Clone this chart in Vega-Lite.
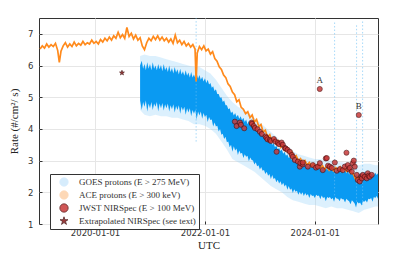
{
"$schema": "https://vega.github.io/schema/vega-lite/v6.json",
"width": 339, "height": 206,
"autosize": {"type": "none"},
"padding": {"left": 39, "top": 18, "right": 19, "bottom": 40},
"config": {
 "view": {"stroke": "#333", "strokeWidth": 1},
 "axis": {"grid": true, "gridColor": "#e6e6e6", "gridWidth": 1, "domain": false, "tickColor": "#333", "tickSize": -3, "labelOverlap": false, "labelFont": "DejaVu Sans", "labelFontSize": 8.5, "labelColor": "#333", "titleFont": "Liberation Serif", "titleFontSize": 11, "titleFontWeight": "normal", "titleColor": "#222"},
 "legend": {"orient": "none", "legendX": 11, "legendY": 156, "padding": 3, "strokeColor": "#333", "fillColor": "#fff", "cornerRadius": 0, "symbolOffset": 6, "labelOffset": 10, "labelFont": "Liberation Serif", "labelFontSize": 9, "labelColor": "#333", "rowPadding": 1, "symbolSize": 70, "symbolStrokeWidth": 0.8}
},
"datasets": {
 "goes_outer": [
  {"year":2020.82,"lo2":4.6,"hi2":6.3},{"year":2020.9,"lo2":4.45,"hi2":6.35},{"year":2021.0,"lo2":4.4,"hi2":6.3},{"year":2021.1,"lo2":4.45,"hi2":6.3},{"year":2021.2,"lo2":4.4,"hi2":6.25},{"year":2021.3,"lo2":4.4,"hi2":6.2},{"year":2021.4,"lo2":4.35,"hi2":6.15},{"year":2021.5,"lo2":4.35,"hi2":6.1},{"year":2021.6,"lo2":4.3,"hi2":6.05},{"year":2021.7,"lo2":4.25,"hi2":6.0},{"year":2021.8,"lo2":4.15,"hi2":5.95},{"year":2021.9,"lo2":4.15,"hi2":5.95},{"year":2022.0,"lo2":4.1,"hi2":5.85},{"year":2022.1,"lo2":4.0,"hi2":5.75},{"year":2022.2,"lo2":3.85,"hi2":5.55},{"year":2022.3,"lo2":3.6,"hi2":5.3},{"year":2022.4,"lo2":3.35,"hi2":5.05},{"year":2022.5,"lo2":3.05,"hi2":4.85},{"year":2022.6,"lo2":2.95,"hi2":4.7},{"year":2022.7,"lo2":2.85,"hi2":4.6},{"year":2022.8,"lo2":2.75,"hi2":4.5},{"year":2022.9,"lo2":2.65,"hi2":4.35},{"year":2023.0,"lo2":2.5,"hi2":4.2},{"year":2023.1,"lo2":2.35,"hi2":4.05},{"year":2023.2,"lo2":2.2,"hi2":3.9},{"year":2023.3,"lo2":2.1,"hi2":3.75},{"year":2023.4,"lo2":2.0,"hi2":3.6},{"year":2023.5,"lo2":1.85,"hi2":3.45},{"year":2023.6,"lo2":1.75,"hi2":3.3},{"year":2023.7,"lo2":1.7,"hi2":3.2},{"year":2023.8,"lo2":1.65,"hi2":3.15},{"year":2023.9,"lo2":1.6,"hi2":3.1},{"year":2024.0,"lo2":1.6,"hi2":3.05},{"year":2024.1,"lo2":1.55,"hi2":3.05},{"year":2024.2,"lo2":1.5,"hi2":3.0},{"year":2024.3,"lo2":1.55,"hi2":3.0},{"year":2024.4,"lo2":1.5,"hi2":2.95},{"year":2024.5,"lo2":1.5,"hi2":2.95},{"year":2024.6,"lo2":1.45,"hi2":2.9},{"year":2024.7,"lo2":1.4,"hi2":2.9},{"year":2024.8,"lo2":1.35,"hi2":2.85},{"year":2024.9,"lo2":1.45,"hi2":2.9},{"year":2025.0,"lo2":1.5,"hi2":2.9},{"year":2025.1,"lo2":1.55,"hi2":2.85},{"year":2025.15,"lo2":1.55,"hi2":2.85}
 ],
 "goes": [
  {"year":2020.82,"lo":4.9,"hi":6.0},{"year":2020.85,"lo":4.6,"hi":6.15},{"year":2020.875,"lo":4.85,"hi":5.9},{"year":2020.9,"lo":4.7,"hi":6.05},{"year":2020.925,"lo":4.9,"hi":5.85},{"year":2020.95,"lo":4.55,"hi":6.1},{"year":2020.975,"lo":4.8,"hi":5.9},{"year":2021.0,"lo":4.65,"hi":6.05},{"year":2021.025,"lo":4.85,"hi":5.85},{"year":2021.05,"lo":4.6,"hi":6.1},{"year":2021.075,"lo":4.8,"hi":5.9},{"year":2021.1,"lo":4.7,"hi":6.0},{"year":2021.125,"lo":4.85,"hi":5.85},{"year":2021.15,"lo":4.55,"hi":6.05},{"year":2021.175,"lo":4.8,"hi":5.88},{"year":2021.2,"lo":4.65,"hi":6.02},{"year":2021.225,"lo":4.82,"hi":5.82},{"year":2021.25,"lo":4.58,"hi":6.05},{"year":2021.275,"lo":4.78,"hi":5.85},{"year":2021.3,"lo":4.65,"hi":5.95},{"year":2021.325,"lo":4.8,"hi":5.8},{"year":2021.35,"lo":4.55,"hi":6.0},{"year":2021.375,"lo":4.75,"hi":5.8},{"year":2021.4,"lo":4.62,"hi":5.92},{"year":2021.425,"lo":4.78,"hi":5.75},{"year":2021.45,"lo":4.52,"hi":5.95},{"year":2021.475,"lo":4.72,"hi":5.78},{"year":2021.5,"lo":4.6,"hi":5.88},{"year":2021.525,"lo":4.75,"hi":5.72},{"year":2021.55,"lo":4.48,"hi":5.9},{"year":2021.575,"lo":4.7,"hi":5.72},{"year":2021.6,"lo":4.58,"hi":5.82},{"year":2021.625,"lo":4.7,"hi":5.68},{"year":2021.65,"lo":4.45,"hi":5.85},{"year":2021.675,"lo":4.65,"hi":5.68},{"year":2021.7,"lo":4.52,"hi":5.78},{"year":2021.725,"lo":4.65,"hi":5.62},{"year":2021.75,"lo":4.4,"hi":5.8},{"year":2021.775,"lo":4.6,"hi":5.62},{"year":2021.8,"lo":4.48,"hi":5.72},{"year":2021.825,"lo":4.6,"hi":5.6},{"year":2021.85,"lo":4.3,"hi":5.75},{"year":2021.875,"lo":4.55,"hi":5.58},
  {"year":2021.9,"lo":4.42,"hi":5.7},{"year":2021.925,"lo":4.55,"hi":5.55},{"year":2021.95,"lo":4.32,"hi":5.65},{"year":2021.975,"lo":4.5,"hi":5.5},{"year":2022.0,"lo":4.38,"hi":5.6},{"year":2022.025,"lo":4.45,"hi":5.45},{"year":2022.05,"lo":4.22,"hi":5.55},{"year":2022.075,"lo":4.38,"hi":5.4},{"year":2022.1,"lo":4.28,"hi":5.45},{"year":2022.125,"lo":4.3,"hi":5.3},{"year":2022.15,"lo":4.08,"hi":5.35},{"year":2022.175,"lo":4.2,"hi":5.2},{"year":2022.2,"lo":4.08,"hi":5.25},{"year":2022.225,"lo":4.1,"hi":5.1},{"year":2022.25,"lo":3.92,"hi":5.1},{"year":2022.275,"lo":4.0,"hi":4.98},{"year":2022.3,"lo":3.82,"hi":5.0},{"year":2022.325,"lo":3.85,"hi":4.85},{"year":2022.35,"lo":3.68,"hi":4.9},{"year":2022.375,"lo":3.75,"hi":4.75},{"year":2022.4,"lo":3.58,"hi":4.75},{"year":2022.425,"lo":3.6,"hi":4.62},{"year":2022.45,"lo":3.42,"hi":4.65},{"year":2022.475,"lo":3.5,"hi":4.5},{"year":2022.5,"lo":3.28,"hi":4.55},{"year":2022.525,"lo":3.45,"hi":4.42},{"year":2022.55,"lo":3.32,"hi":4.5},{"year":2022.575,"lo":3.38,"hi":4.38},{"year":2022.6,"lo":3.18,"hi":4.45},{"year":2022.625,"lo":3.32,"hi":4.32},{"year":2022.65,"lo":3.22,"hi":4.4},{"year":2022.675,"lo":3.25,"hi":4.28},{"year":2022.7,"lo":3.08,"hi":4.35},{"year":2022.725,"lo":3.2,"hi":4.22},{"year":2022.75,"lo":3.12,"hi":4.3},{"year":2022.775,"lo":3.15,"hi":4.15},{"year":2022.8,"lo":2.98,"hi":4.25},{"year":2022.825,"lo":3.1,"hi":4.1},{"year":2022.85,"lo":3.02,"hi":4.2},{"year":2022.875,"lo":3.0,"hi":4.02},{"year":2022.9,"lo":2.88,"hi":4.1},{"year":2022.925,"lo":2.95,"hi":3.95},{"year":2022.95,"lo":2.82,"hi":4.0},{"year":2022.975,"lo":2.85,"hi":3.88},{"year":2023.0,"lo":2.72,"hi":3.95},{"year":2023.025,"lo":2.8,"hi":3.8},{"year":2023.05,"lo":2.68,"hi":3.85},{"year":2023.075,"lo":2.7,"hi":3.72},{"year":2023.1,"lo":2.58,"hi":3.78},{"year":2023.125,"lo":2.65,"hi":3.65},{"year":2023.15,"lo":2.52,"hi":3.7},{"year":2023.175,"lo":2.58,"hi":3.58},{"year":2023.2,"lo":2.42,"hi":3.62},{"year":2023.225,"lo":2.55,"hi":3.5},{"year":2023.25,"lo":2.42,"hi":3.55},{"year":2023.275,"lo":2.45,"hi":3.42},{"year":2023.3,"lo":2.32,"hi":3.48},{"year":2023.325,"lo":2.4,"hi":3.35},{"year":2023.35,"lo":2.28,"hi":3.4},{"year":2023.375,"lo":2.35,"hi":3.3},{"year":2023.4,"lo":2.22,"hi":3.35},{"year":2023.425,"lo":2.3,"hi":3.22},{"year":2023.45,"lo":2.18,"hi":3.28},{"year":2023.475,"lo":2.25,"hi":3.15},{"year":2023.5,"lo":2.08,"hi":3.2},{"year":2023.525,"lo":2.2,"hi":3.08},{"year":2023.55,"lo":2.08,"hi":3.12},{"year":2023.575,"lo":2.12,"hi":3.02},{"year":2023.6,"lo":1.98,"hi":3.06},{"year":2023.625,"lo":2.1,"hi":2.96},{"year":2023.65,"lo":2.02,"hi":3.02},{"year":2023.675,"lo":2.05,"hi":2.92},{"year":2023.7,"lo":1.92,"hi":2.98},{"year":2023.725,"lo":2.02,"hi":2.88},{"year":2023.75,"lo":1.92,"hi":2.95},{"year":2023.775,"lo":2.0,"hi":2.85},{"year":2023.8,"lo":1.88,"hi":2.92},{"year":2023.825,"lo":1.98,"hi":2.82},{"year":2023.85,"lo":1.9,"hi":2.9},{"year":2023.875,"lo":1.95,"hi":2.8},{"year":2023.9,"lo":1.82,"hi":2.88},{"year":2023.925,"lo":1.95,"hi":2.78},{"year":2023.95,"lo":1.88,"hi":2.86},{"year":2023.975,"lo":1.9,"hi":2.76},
  {"year":2024.0,"lo":1.82,"hi":2.85},{"year":2024.025,"lo":1.92,"hi":2.75},{"year":2024.05,"lo":1.88,"hi":2.85},{"year":2024.075,"lo":1.9,"hi":2.74},{"year":2024.1,"lo":1.78,"hi":2.82},{"year":2024.125,"lo":1.9,"hi":2.72},{"year":2024.15,"lo":1.82,"hi":2.8},{"year":2024.175,"lo":1.85,"hi":2.7},{"year":2024.2,"lo":1.72,"hi":2.78},{"year":2024.225,"lo":1.85,"hi":2.7},{"year":2024.25,"lo":1.82,"hi":2.8},{"year":2024.275,"lo":1.85,"hi":2.68},{"year":2024.3,"lo":1.78,"hi":2.76},{"year":2024.325,"lo":1.82,"hi":2.66},{"year":2024.35,"lo":1.7,"hi":2.74},{"year":2024.375,"lo":1.85,"hi":2.64},{"year":2024.4,"lo":1.8,"hi":2.72},{"year":2024.425,"lo":1.8,"hi":2.64},{"year":2024.45,"lo":1.72,"hi":2.74},{"year":2024.475,"lo":1.82,"hi":2.62},{"year":2024.5,"lo":1.78,"hi":2.7},{"year":2024.525,"lo":1.78,"hi":2.6},{"year":2024.55,"lo":1.68,"hi":2.7},{"year":2024.575,"lo":1.8,"hi":2.6},{"year":2024.6,"lo":1.75,"hi":2.68},{"year":2024.625,"lo":1.72,"hi":2.56},{"year":2024.65,"lo":1.62,"hi":2.65},{"year":2024.675,"lo":1.75,"hi":2.55},{"year":2024.7,"lo":1.7,"hi":2.62},{"year":2024.725,"lo":1.65,"hi":2.5},{"year":2024.75,"lo":1.52,"hi":2.58},{"year":2024.775,"lo":1.7,"hi":2.5},{"year":2024.8,"lo":1.65,"hi":2.6},{"year":2024.825,"lo":1.68,"hi":2.52},{"year":2024.85,"lo":1.58,"hi":2.62},{"year":2024.875,"lo":1.72,"hi":2.52},{"year":2024.9,"lo":1.7,"hi":2.65},{"year":2024.925,"lo":1.75,"hi":2.55},{"year":2024.95,"lo":1.68,"hi":2.62},{"year":2024.975,"lo":1.8,"hi":2.55},{"year":2025.0,"lo":1.78,"hi":2.65},{"year":2025.025,"lo":1.82,"hi":2.55},{"year":2025.05,"lo":1.7,"hi":2.6},{"year":2025.075,"lo":1.85,"hi":2.52},{"year":2025.1,"lo":1.82,"hi":2.62},{"year":2025.125,"lo":1.88,"hi":2.55},{"year":2025.15,"lo":1.8,"hi":2.6}
 ],
 "flares": [
  {"year":2021.84,"lo":3.6,"hi":7.5},{"year":2024.36,"lo":1.9,"hi":7.4},{"year":2024.76,"lo":1.7,"hi":7.3},{"year":2024.87,"lo":1.6,"hi":7.4}
 ],
 "ace": [
  {"year":2019.0,"rate":6.52},{"year":2019.04,"rate":6.62},{"year":2019.08,"rate":6.55},{"year":2019.12,"rate":6.68},{"year":2019.16,"rate":6.58},{"year":2019.2,"rate":6.66},{"year":2019.24,"rate":6.6},{"year":2019.28,"rate":6.7},{"year":2019.32,"rate":6.48},{"year":2019.35,"rate":6.1},{"year":2019.38,"rate":6.45},{"year":2019.42,"rate":6.62},{"year":2019.46,"rate":6.72},{"year":2019.5,"rate":6.58},{"year":2019.54,"rate":6.68},{"year":2019.58,"rate":6.6},{"year":2019.62,"rate":6.74},{"year":2019.66,"rate":6.62},{"year":2019.7,"rate":6.7},{"year":2019.74,"rate":6.64},{"year":2019.78,"rate":6.76},{"year":2019.82,"rate":6.66},{"year":2019.86,"rate":6.72},{"year":2019.9,"rate":6.68},{"year":2019.94,"rate":6.8},{"year":2019.98,"rate":6.7},
  {"year":2020.02,"rate":6.76},{"year":2020.06,"rate":6.68},{"year":2020.1,"rate":6.82},{"year":2020.14,"rate":6.74},{"year":2020.18,"rate":6.86},{"year":2020.22,"rate":6.78},{"year":2020.26,"rate":6.9},{"year":2020.3,"rate":6.8},{"year":2020.34,"rate":6.94},{"year":2020.38,"rate":6.86},{"year":2020.42,"rate":7.05},{"year":2020.46,"rate":6.88},{"year":2020.5,"rate":6.98},{"year":2020.54,"rate":6.86},{"year":2020.58,"rate":7.2},{"year":2020.62,"rate":6.92},{"year":2020.66,"rate":7.02},{"year":2020.7,"rate":6.84},{"year":2020.74,"rate":6.96},{"year":2020.78,"rate":6.8},{"year":2020.82,"rate":6.88},{"year":2020.86,"rate":6.62},{"year":2020.9,"rate":6.5},{"year":2020.94,"rate":6.72},{"year":2020.98,"rate":6.86},
  {"year":2021.02,"rate":6.78},{"year":2021.06,"rate":6.92},{"year":2021.1,"rate":6.82},{"year":2021.14,"rate":6.94},{"year":2021.18,"rate":6.8},{"year":2021.22,"rate":6.9},{"year":2021.26,"rate":6.78},{"year":2021.3,"rate":6.86},{"year":2021.34,"rate":6.74},{"year":2021.38,"rate":6.84},{"year":2021.42,"rate":6.7},{"year":2021.46,"rate":6.96},{"year":2021.5,"rate":6.72},{"year":2021.54,"rate":6.8},{"year":2021.58,"rate":6.66},{"year":2021.62,"rate":6.76},{"year":2021.66,"rate":6.62},{"year":2021.7,"rate":6.7},{"year":2021.74,"rate":6.58},{"year":2021.78,"rate":6.66},{"year":2021.82,"rate":6.52},{"year":2021.84,"rate":5.5},{"year":2021.86,"rate":6.4},{"year":2021.9,"rate":6.6},{"year":2021.94,"rate":6.5},{"year":2021.98,"rate":6.62},
  {"year":2022.02,"rate":6.46},{"year":2022.06,"rate":6.52},{"year":2022.1,"rate":6.36},{"year":2022.14,"rate":6.44},{"year":2022.18,"rate":6.22},{"year":2022.22,"rate":6.14},{"year":2022.26,"rate":5.96},{"year":2022.3,"rate":5.88},{"year":2022.34,"rate":5.7},{"year":2022.38,"rate":5.62},{"year":2022.42,"rate":5.42},{"year":2022.46,"rate":5.34},{"year":2022.5,"rate":5.16},{"year":2022.54,"rate":5.08},{"year":2022.58,"rate":4.86},{"year":2022.62,"rate":4.92},{"year":2022.66,"rate":4.68},{"year":2022.7,"rate":4.62},{"year":2022.74,"rate":4.48},{"year":2022.78,"rate":4.54},{"year":2022.82,"rate":4.36},{"year":2022.86,"rate":4.44},{"year":2022.9,"rate":4.22},{"year":2022.94,"rate":4.3},{"year":2022.98,"rate":4.08},
  {"year":2023.02,"rate":4.14},{"year":2023.06,"rate":3.9},{"year":2023.1,"rate":3.96},{"year":2023.14,"rate":3.74},{"year":2023.18,"rate":3.82},{"year":2023.22,"rate":3.62},{"year":2023.26,"rate":3.7},{"year":2023.3,"rate":3.52},{"year":2023.34,"rate":3.62},{"year":2023.38,"rate":3.42},{"year":2023.42,"rate":3.5},{"year":2023.46,"rate":3.32},{"year":2023.5,"rate":3.4},{"year":2023.54,"rate":3.22},{"year":2023.58,"rate":3.28},{"year":2023.62,"rate":3.1},{"year":2023.66,"rate":3.16},{"year":2023.7,"rate":3.0},{"year":2023.74,"rate":3.06},{"year":2023.78,"rate":2.92},{"year":2023.82,"rate":3.0},{"year":2023.86,"rate":2.86},{"year":2023.9,"rate":2.94},{"year":2023.94,"rate":2.82},{"year":2023.98,"rate":2.9},
  {"year":2024.02,"rate":2.8},{"year":2024.06,"rate":2.88},{"year":2024.1,"rate":2.76},{"year":2024.14,"rate":2.84},{"year":2024.18,"rate":2.72},{"year":2024.22,"rate":2.82},{"year":2024.26,"rate":2.7},{"year":2024.3,"rate":2.8},{"year":2024.34,"rate":2.68},{"year":2024.38,"rate":2.78},{"year":2024.42,"rate":2.7},{"year":2024.46,"rate":2.8},{"year":2024.5,"rate":2.68},{"year":2024.54,"rate":2.76},{"year":2024.58,"rate":2.66},{"year":2024.62,"rate":2.74},{"year":2024.66,"rate":2.62},{"year":2024.7,"rate":2.58},{"year":2024.74,"rate":2.42},{"year":2024.78,"rate":2.48},{"year":2024.82,"rate":2.38},{"year":2024.86,"rate":2.5},{"year":2024.9,"rate":2.44},{"year":2024.94,"rate":2.54},{"year":2024.98,"rate":2.46}
 ],
 "points": [
  {"year":2022.545,"rate":4.23,"series":"JWST NIRSpec (E > 100 MeV)"},{"year":2022.576,"rate":4.09,"series":"JWST NIRSpec (E > 100 MeV)"},{"year":2022.636,"rate":4.2,"series":"JWST NIRSpec (E > 100 MeV)"},{"year":2022.655,"rate":4.13,"series":"JWST NIRSpec (E > 100 MeV)"},{"year":2022.715,"rate":4.02,"series":"JWST NIRSpec (E > 100 MeV)"},{"year":2022.849,"rate":4.2,"series":"JWST NIRSpec (E > 100 MeV)"},{"year":2022.855,"rate":4.16,"series":"JWST NIRSpec (E > 100 MeV)"},{"year":2022.891,"rate":4.09,"series":"JWST NIRSpec (E > 100 MeV)"},{"year":2022.909,"rate":4.03,"series":"JWST NIRSpec (E > 100 MeV)"},{"year":2022.958,"rate":3.99,"series":"JWST NIRSpec (E > 100 MeV)"},
  {"year":2023.0,"rate":3.91,"series":"JWST NIRSpec (E > 100 MeV)"},{"year":2023.036,"rate":3.84,"series":"JWST NIRSpec (E > 100 MeV)"},{"year":2023.104,"rate":3.76,"series":"JWST NIRSpec (E > 100 MeV)"},{"year":2023.12,"rate":3.72,"series":"JWST NIRSpec (E > 100 MeV)"},{"year":2023.14,"rate":3.67,"series":"JWST NIRSpec (E > 100 MeV)"},{"year":2023.182,"rate":3.65,"series":"JWST NIRSpec (E > 100 MeV)"},{"year":2023.2,"rate":3.62,"series":"JWST NIRSpec (E > 100 MeV)"},{"year":2023.255,"rate":3.68,"series":"JWST NIRSpec (E > 100 MeV)"},{"year":2023.285,"rate":3.6,"series":"JWST NIRSpec (E > 100 MeV)"},{"year":2023.304,"rate":3.28,"series":"JWST NIRSpec (E > 100 MeV)"},{"year":2023.327,"rate":3.56,"series":"JWST NIRSpec (E > 100 MeV)"},{"year":2023.35,"rate":3.52,"series":"JWST NIRSpec (E > 100 MeV)"},{"year":2023.395,"rate":3.57,"series":"JWST NIRSpec (E > 100 MeV)"},{"year":2023.418,"rate":3.5,"series":"JWST NIRSpec (E > 100 MeV)"},{"year":2023.455,"rate":3.4,"series":"JWST NIRSpec (E > 100 MeV)"},{"year":2023.47,"rate":3.38,"series":"JWST NIRSpec (E > 100 MeV)"},{"year":2023.504,"rate":3.34,"series":"JWST NIRSpec (E > 100 MeV)"},{"year":2023.545,"rate":3.28,"series":"JWST NIRSpec (E > 100 MeV)"},{"year":2023.582,"rate":3.18,"series":"JWST NIRSpec (E > 100 MeV)"},{"year":2023.6,"rate":3.12,"series":"JWST NIRSpec (E > 100 MeV)"},{"year":2023.636,"rate":3.02,"series":"JWST NIRSpec (E > 100 MeV)"},{"year":2023.691,"rate":2.97,"series":"JWST NIRSpec (E > 100 MeV)"},{"year":2023.727,"rate":2.81,"series":"JWST NIRSpec (E > 100 MeV)"},{"year":2023.736,"rate":2.92,"series":"JWST NIRSpec (E > 100 MeV)"},{"year":2023.78,"rate":2.88,"series":"JWST NIRSpec (E > 100 MeV)"},{"year":2023.782,"rate":2.94,"series":"JWST NIRSpec (E > 100 MeV)"},{"year":2023.873,"rate":2.81,"series":"JWST NIRSpec (E > 100 MeV)"},{"year":2023.964,"rate":2.86,"series":"JWST NIRSpec (E > 100 MeV)"},
  {"year":2024.02,"rate":2.78,"series":"JWST NIRSpec (E > 100 MeV)"},{"year":2024.055,"rate":2.81,"series":"JWST NIRSpec (E > 100 MeV)"},{"year":2024.091,"rate":2.92,"series":"JWST NIRSpec (E > 100 MeV)"},{"year":2024.145,"rate":2.7,"series":"JWST NIRSpec (E > 100 MeV)"},{"year":2024.2,"rate":3.07,"series":"JWST NIRSpec (E > 100 MeV)"},{"year":2024.218,"rate":3.08,"series":"JWST NIRSpec (E > 100 MeV)"},{"year":2024.24,"rate":2.84,"series":"JWST NIRSpec (E > 100 MeV)"},{"year":2024.273,"rate":2.81,"series":"JWST NIRSpec (E > 100 MeV)"},{"year":2024.309,"rate":2.77,"series":"JWST NIRSpec (E > 100 MeV)"},{"year":2024.364,"rate":2.94,"series":"JWST NIRSpec (E > 100 MeV)"},{"year":2024.4,"rate":2.68,"series":"JWST NIRSpec (E > 100 MeV)"},{"year":2024.455,"rate":2.73,"series":"JWST NIRSpec (E > 100 MeV)"},{"year":2024.509,"rate":2.7,"series":"JWST NIRSpec (E > 100 MeV)"},{"year":2024.545,"rate":2.81,"series":"JWST NIRSpec (E > 100 MeV)"},{"year":2024.576,"rate":3.25,"series":"JWST NIRSpec (E > 100 MeV)"},{"year":2024.6,"rate":2.86,"series":"JWST NIRSpec (E > 100 MeV)"},{"year":2024.62,"rate":2.72,"series":"JWST NIRSpec (E > 100 MeV)"},{"year":2024.636,"rate":2.77,"series":"JWST NIRSpec (E > 100 MeV)"},{"year":2024.673,"rate":2.65,"series":"JWST NIRSpec (E > 100 MeV)"},{"year":2024.691,"rate":2.92,"series":"JWST NIRSpec (E > 100 MeV)"},{"year":2024.709,"rate":3.0,"series":"JWST NIRSpec (E > 100 MeV)"},{"year":2024.727,"rate":2.81,"series":"JWST NIRSpec (E > 100 MeV)"},{"year":2024.764,"rate":2.55,"series":"JWST NIRSpec (E > 100 MeV)"},{"year":2024.782,"rate":2.39,"series":"JWST NIRSpec (E > 100 MeV)"},{"year":2024.818,"rate":2.34,"series":"JWST NIRSpec (E > 100 MeV)"},{"year":2024.85,"rate":2.5,"series":"JWST NIRSpec (E > 100 MeV)"},{"year":2024.855,"rate":2.44,"series":"JWST NIRSpec (E > 100 MeV)"},{"year":2024.873,"rate":2.55,"series":"JWST NIRSpec (E > 100 MeV)"},{"year":2024.909,"rate":2.49,"series":"JWST NIRSpec (E > 100 MeV)"},{"year":2024.945,"rate":2.44,"series":"JWST NIRSpec (E > 100 MeV)"},{"year":2024.964,"rate":2.6,"series":"JWST NIRSpec (E > 100 MeV)"},{"year":2024.98,"rate":2.52,"series":"JWST NIRSpec (E > 100 MeV)"},{"year":2025.0,"rate":2.49,"series":"JWST NIRSpec (E > 100 MeV)"},{"year":2025.036,"rate":2.55,"series":"JWST NIRSpec (E > 100 MeV)"},
  {"year":2024.09,"rate":5.26,"series":"JWST NIRSpec (E > 100 MeV)"},{"year":2024.8,"rate":4.44,"series":"JWST NIRSpec (E > 100 MeV)"},
  {"year":2020.49,"rate":5.77,"series":"Extrapolated NIRSpec (see text)"}
 ],
 "labels": [
  {"year":2024.09,"rate":5.26,"label":"A"},{"year":2024.8,"rate":4.44,"label":"B"}
 ]
},
"layer": [
 {
  "data": {"name": "goes_outer"},
  "mark": {"type": "area", "color": "#8ccdf7", "opacity": 0.3},
  "encoding": {
   "x": {"field": "year", "type": "quantitative", "title": "UTC", "scale": {"domain": [2018.98, 2025.15], "nice": false, "zero": false}, "axis": {"values": [2020, 2022, 2024], "labelExpr": "datum.value + '-01-01'", "titlePadding": 3, "labelPadding": 7, "labelOverlap": false}},
   "y": {"field": "lo2", "type": "quantitative", "title": "Rate (#/cm²/ s)", "scale": {"domain": [1, 7.5], "nice": false, "zero": false}, "axis": {"values": [1, 2, 3, 4, 5, 6, 7], "tickCount": 7, "titlePadding": 8, "labelPadding": 9, "labelOverlap": false, "labelSeparation": 0, "labelFontSize": 8.5}},
   "y2": {"field": "hi2"}
  }
 },
 {
  "data": {"name": "goes"},
  "mark": {"type": "area", "color": "#0a9af2", "opacity": 1},
  "encoding": {
   "x": {"field": "year", "type": "quantitative", "title": "UTC"},
   "y": {"field": "lo", "type": "quantitative", "title": "Rate (#/cm²/ s)", "axis": {"values": [1, 2, 3, 4, 5, 6, 7], "tickCount": 7, "labelOverlap": false}},
   "y2": {"field": "hi"}
  }
 },
 {
  "data": {"name": "flares"},
  "mark": {"type": "rule", "color": "#6cc0f5", "opacity": 0.6, "strokeWidth": 1, "strokeDash": [1.5, 2]},
  "encoding": {
   "x": {"field": "year", "type": "quantitative", "title": "UTC"},
   "y": {"field": "lo", "type": "quantitative", "title": "Rate (#/cm²/ s)", "axis": {"values": [1, 2, 3, 4, 5, 6, 7], "tickCount": 7, "labelOverlap": false}},
   "y2": {"field": "hi"}
  }
 },
 {
  "data": {"name": "ace"},
  "mark": {"type": "line", "color": "#ff8a1c", "strokeWidth": 1.7},
  "encoding": {
   "x": {"field": "year", "type": "quantitative", "title": "UTC"},
   "y": {"field": "rate", "type": "quantitative", "title": "Rate (#/cm²/ s)", "axis": {"values": [1, 2, 3, 4, 5, 6, 7], "tickCount": 7, "labelOverlap": false}}
  }
 },
 {
  "data": {"name": "points"},
  "mark": {"type": "point", "filled": true, "opacity": 0.85, "size": 26, "strokeWidth": 0.7},
  "encoding": {
   "x": {"field": "year", "type": "quantitative", "title": "UTC"},
   "y": {"field": "rate", "type": "quantitative", "title": "Rate (#/cm²/ s)", "axis": {"values": [1, 2, 3, 4, 5, 6, 7], "tickCount": 7, "labelOverlap": false}},
   "color": {"field": "series", "type": "nominal", "title": null, "scale": {"domain": ["GOES protons (E > 275 MeV)", "ACE protons (E > 300 keV)", "JWST NIRSpec (E > 100 MeV)", "Extrapolated NIRSpec (see text)"], "range": ["#cfe9fc", "#fdd2aa", "#c83a3a", "#8b1a1a"]}},
   "stroke": {"field": "series", "type": "nominal", "title": null, "scale": {"domain": ["GOES protons (E > 275 MeV)", "ACE protons (E > 300 keV)", "JWST NIRSpec (E > 100 MeV)", "Extrapolated NIRSpec (see text)"], "range": ["#cfe9fc", "#fdd2aa", "#4a0d0d", "#3a0505"]}},
   "shape": {"field": "series", "type": "nominal", "title": null, "scale": {"domain": ["GOES protons (E > 275 MeV)", "ACE protons (E > 300 keV)", "JWST NIRSpec (E > 100 MeV)", "Extrapolated NIRSpec (see text)"], "range": ["circle", "circle", "circle", "M0,-1L0.22,-0.31L0.95,-0.31L0.36,0.12L0.59,0.81L0,0.38L-0.59,0.81L-0.36,0.12L-0.95,-0.31L-0.22,-0.31Z"]}}
  }
 },
 {
  "data": {"name": "labels"},
  "mark": {"type": "text", "dy": -9, "font": "Liberation Serif", "fontSize": 9, "color": "#333"},
  "encoding": {
   "x": {"field": "year", "type": "quantitative", "title": "UTC"},
   "y": {"field": "rate", "type": "quantitative", "title": "Rate (#/cm²/ s)", "axis": {"values": [1, 2, 3, 4, 5, 6, 7], "tickCount": 7, "labelOverlap": false}},
   "text": {"field": "label"}
  }
 }
]
}
